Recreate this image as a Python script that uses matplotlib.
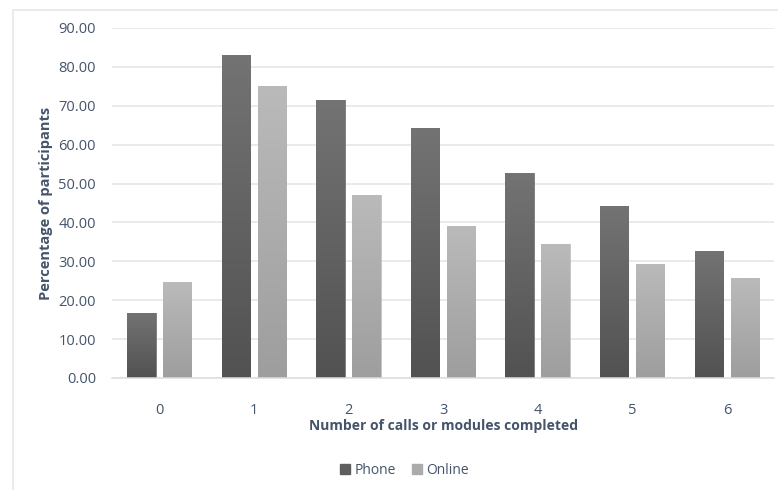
import matplotlib
matplotlib.use("Agg")
import matplotlib.pyplot as plt
import matplotlib.patches as mpatches
import numpy as np

# datos
categorias = ["0", "1", "2", "3", "4", "5", "6"]
phone = [16.8, 83.1, 71.5, 64.2, 52.7, 44.2, 32.7]
online = [24.6, 75.1, 47.1, 39.0, 34.4, 29.4, 25.6]
yticks = [0, 10, 20, 30, 40, 50, 60, 70, 80, 90]

plt.rcParams['font.family'] = ['Open Sans', 'DejaVu Sans']
texto = "#44546a"

fig = plt.figure(figsize=(7.78, 4.9), dpi=100)
ax = fig.add_axes([0.144, 0.2286, 0.851, 0.7143])

x = np.arange(len(categorias))
ancho = 0.30
sep = 0.19

barras_p = ax.bar(x - sep, phone, ancho, color="#5e5e5e", edgecolor="#7a7a7a", linewidth=0.6, label="Phone", zorder=2)
barras_o = ax.bar(x + sep, online, ancho, color="#ababab", edgecolor="#c4c4c4", linewidth=0.6, label="Online", zorder=2)

# degradado vertical en cada barra
def degradado(barras, arriba, abajo):
    c1 = np.array(matplotlib.colors.to_rgb(arriba))
    c2 = np.array(matplotlib.colors.to_rgb(abajo))
    t = np.linspace(0, 1, 64)[:, None]
    img = (c1 * (1 - t) + c2 * t)[:, None, :]
    for b in barras:
        x0, y0 = b.get_x(), b.get_y()
        w, h = b.get_width(), b.get_height()
        im = ax.imshow(img, extent=[x0, x0 + w, y0, y0 + h], origin="upper",
                       aspect="auto", zorder=2.5, interpolation="bilinear")
        im.set_clip_path(b)

degradado(barras_p, "#737373", "#525252")
degradado(barras_o, "#bababa", "#9e9e9e")

ax.set_xlim(-0.5, len(categorias) - 0.5)
ax.set_ylim(0, 90)
ax.set_yticks(yticks)
ax.set_yticklabels([f"{v:.2f}" for v in yticks])
ax.set_xticks(x)
ax.set_xticklabels(categorias)

ax.grid(axis="y", color="#e1e4ea", linewidth=1.1, zorder=0)
ax.set_axisbelow(True)
for s in ["top", "right", "left"]:
    ax.spines[s].set_visible(False)
ax.spines["bottom"].set_color("#d9dde3")
ax.spines["bottom"].set_linewidth(1.1)
ax.tick_params(axis="both", length=0, colors=texto, labelsize=10.5)
ax.tick_params(axis="x", pad=18)
ax.tick_params(axis="y", pad=11.5)

ax.set_xlabel("Number of calls or modules completed", fontsize=10, fontweight="bold", color=texto, labelpad=1)
ax.set_ylabel("Percentage of participants", fontsize=10.5, fontweight="bold", color=texto, labelpad=4)

h1 = mpatches.Patch(color="#5e5e5e")
h2 = mpatches.Patch(color="#ababab")
leg = fig.legend([h1, h2], ["Phone", "Online"], loc="center", bbox_to_anchor=(0.52, 0.04),
                 ncol=2, frameon=False, fontsize=10, handlelength=0.7, handleheight=0.7,
                 handletextpad=0.3, columnspacing=1.2)
for t in leg.get_texts():
    t.set_color(texto)

# marco del area de la grafica
marco = mpatches.Rectangle((13 / 778, -0.1), 1.1, 1.1 - 10 / 490, transform=fig.transFigure,
                           fill=False, edgecolor="#e4e7ec", linewidth=1.2)
fig.patches.append(marco)

fig.savefig("out.png", dpi=100)
